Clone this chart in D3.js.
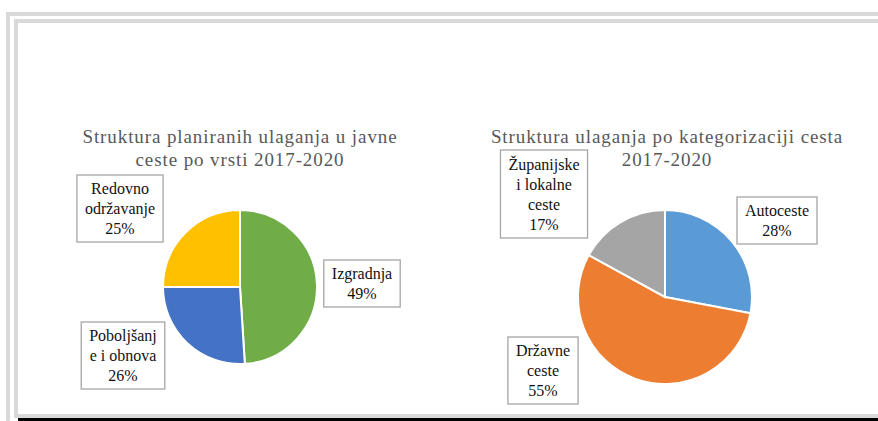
<!DOCTYPE html>
<html>
<head>
<meta charset="utf-8">
<script src="https://cdn.jsdelivr.net/npm/d3@7"></script>
<style>
  html, body { margin: 0; padding: 0; background: #fff; }
  svg { display: block; }
  text { font-family: "Liberation Serif", "DejaVu Serif", serif; }
</style>
</head>
<body>
<div id="chart"></div>
<script>
// data - left pie (vrsta ulaganja)
const leftTitle = ["Struktura planiranih ulaganja u javne", "ceste po vrsti 2017-2020"];
const leftCategories = ["Izgradnja", "Poboljšanje i obnova", "Redovno održavanje"];
const leftValues = [49, 26, 25];
const leftLabelLines = [["Izgradnja"], ["Poboljšanj", "e i obnova"], ["Redovno", "održavanje"]];

// data - right pie (kategorija cesta)
const rightTitle = ["Struktura ulaganja po kategorizaciji cesta", "2017-2020"];
const rightCategories = ["Autoceste", "Državne ceste", "Županijske i lokalne ceste"];
const rightValues = [28, 55, 17];
const rightLabelLines = [["Autoceste"], ["Državne", "ceste"], ["Županijske", "i lokalne", "ceste"]];

const width = 878, height = 421;

const svg = d3.select('#chart')
    .append('svg')
    .attr('width', width)
    .attr('height', height);

// frame lines (screenshot border)
const frameGray = '#d9d9d9';
svg.append('rect').attr('x', 6).attr('y', 12).attr('width', width).attr('height', 4).attr('fill', frameGray);
svg.append('rect').attr('x', 6).attr('y', 12).attr('width', 4).attr('height', height).attr('fill', frameGray);
svg.append('rect').attr('x', 14).attr('y', 19).attr('width', width).attr('height', 4).attr('fill', frameGray);
svg.append('rect').attr('x', 14).attr('y', 19).attr('width', 4).attr('height', 399).attr('fill', frameGray);
svg.append('rect').attr('x', 14).attr('y', 414).attr('width', width).attr('height', 4).attr('fill', frameGray);
svg.append('rect').attr('x', 18).attr('y', 418).attr('width', width).attr('height', 3).attr('fill', '#000');

const drawPie = (cfg) => {
    const g = svg.append('g').attr('transform', `translate(${cfg.cx}, ${cfg.cy})`);

    const pie = d3.pie().sort(null).value(d => d.value);
    const arc = d3.arc().innerRadius(0).outerRadius(cfg.r);
    const data = cfg.categories.map((c, i) => ({ name: c, value: cfg.values[i], lines: cfg.lines[i] }));
    const color = d3.scaleOrdinal().domain(cfg.categories).range(cfg.colors);

    g.selectAll('path.slice')
        .data(pie(data))
        .join('path')
        .attr('class', 'slice')
        .attr('d', arc)
        .attr('fill', d => color(d.data.name))
        .attr('stroke', '#fff')
        .attr('stroke-width', 2);

    // title
    svg.append('text')
        .attr('x', cfg.titleX)
        .attr('y', cfg.titleY)
        .attr('text-anchor', 'middle')
        .style('font-size', '19px')
        .style('letter-spacing', '0.9px')
        .style('fill', '#595959')
        .selectAll('tspan')
        .data(cfg.title)
        .join('tspan')
        .attr('x', cfg.titleX)
        .attr('dy', (d, i) => i === 0 ? 0 : 23)
        .text(d => d);

    // data labels in boxes
    const lineH = 20;
    pie(data).forEach((d, i) => {
        const [ox, oy] = cfg.labelOffsets[i];
        const lines = d.data.lines.concat([d.data.value + '%']);
        const lg = g.append('g').attr('transform', `translate(${ox}, ${oy})`);
        const t = lg.append('text')
            .attr('text-anchor', 'middle')
            .style('font-size', '16px')
            .style('fill', '#111');
        t.selectAll('tspan')
            .data(lines)
            .join('tspan')
            .attr('x', 0)
            .attr('y', (l, j) => (j - (lines.length - 1) / 2) * lineH + 5)
            .text(l => l);
        const bb = t.node().getBBox();
        const padX = 8, padY = 5;
        lg.insert('rect', 'text')
            .attr('x', bb.x - padX)
            .attr('y', bb.y - padY)
            .attr('width', bb.width + padX * 2)
            .attr('height', bb.height + padY * 2)
            .attr('fill', '#fff')
            .attr('stroke', '#a6a6a6')
            .attr('stroke-width', 1.3);
    });
};

drawPie({
    cx: 240, cy: 287, r: 77,
    titleX: 240, titleY: 143,
    title: leftTitle,
    categories: leftCategories, values: leftValues, lines: leftLabelLines,
    colors: ['#70ad47', '#4472c4', '#ffc000'],
    labelOffsets: [[122, -3], [-117, 69], [-120, -78]]
});

drawPie({
    cx: 665, cy: 297, r: 87,
    titleX: 667, titleY: 143,
    title: rightTitle,
    categories: rightCategories, values: rightValues, lines: rightLabelLines,
    colors: ['#5b9bd5', '#ed7d31', '#a5a5a5'],
    labelOffsets: [[112, -76], [-122, 74], [-121, -102]]
});
</script>
</body>
</html>
